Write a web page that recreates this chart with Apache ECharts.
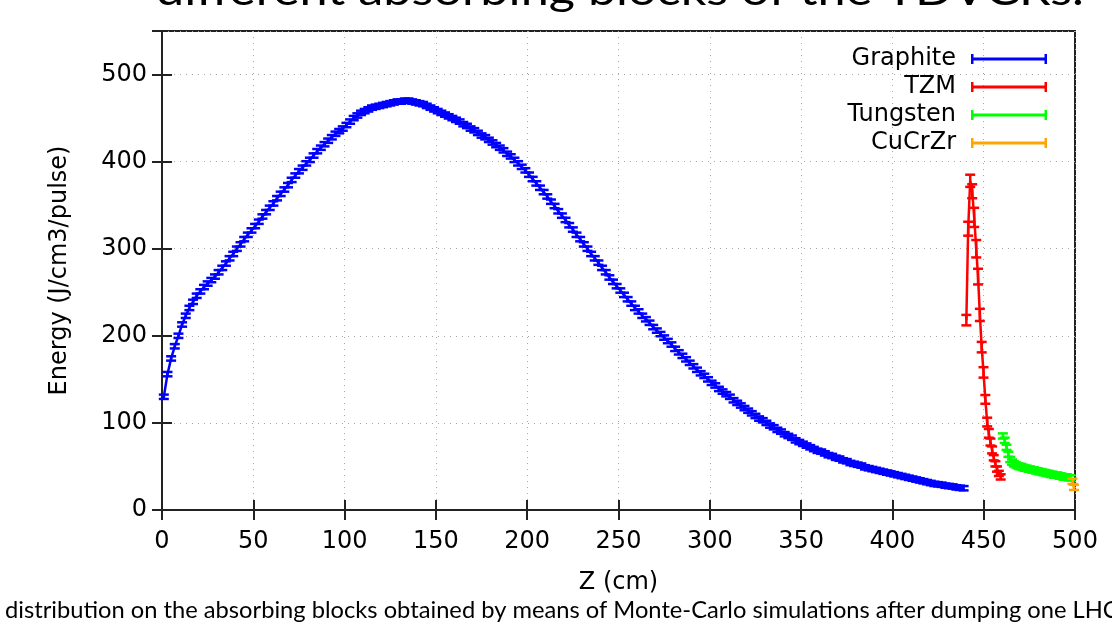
<!DOCTYPE html>
<html>
<head>
<meta charset="utf-8">
<title>Energy distribution</title>
<script src="https://cdn.jsdelivr.net/npm/echarts@6/dist/echarts.min.js"></script>
<style>
html, body { margin: 0; padding: 0; background: #fff; }
#chart { width: 1112px; height: 628px; }
</style>
</head>
<body>
<div id="chart"></div>
<script>
// Graphite: bins of 2 cm, first centre at z = 1
var graphiteStart = 1;
var graphiteStep = 2;
var graphiteE = [
  130, 156, 174, 188, 200, 213, 223, 232, 239, 246,
  251, 256, 260, 264, 268, 273, 278, 283, 289, 294,
  300, 305, 311, 316, 321, 326, 331, 337, 342, 347,
  352, 358, 363, 368, 373, 379, 384, 389, 393, 398,
  402, 407, 412, 416, 420, 424, 428, 432, 435, 438,
  442, 446, 450, 453, 456, 458, 460, 462, 463, 464,
  465, 466, 467, 468, 469, 469, 470, 470, 469, 468,
  467, 466, 464, 462, 460, 458, 456, 454, 452, 450,
  448, 446, 443, 441, 438, 436, 433, 430, 428, 425,
  422, 419, 416, 413, 409, 406, 402, 398, 394, 390,
  385, 380, 375, 370, 365, 360, 354, 349, 343, 338,
  333, 327, 322, 316, 311, 305, 300, 294, 289, 284,
  278, 273, 267, 262, 257, 252, 247, 242, 237, 232,
  228, 223, 219, 215, 210, 206, 202, 198, 194, 190,
  185, 181, 177, 173, 169, 165, 161, 157, 154, 150,
  146, 143, 139, 136, 133, 130, 126, 123, 120, 117,
  114, 111, 108, 105, 103, 100, 97, 95, 92, 90,
  87, 85, 83, 80, 78, 76, 74, 72, 70, 68,
  67, 65, 63, 62, 60, 59, 57, 56, 54, 53,
  52, 51, 49, 48, 47, 46, 45, 44, 43, 42,
  41, 40, 39, 38, 37, 36, 35, 34, 33, 32,
  31, 30, 29.5, 29, 28, 27.5, 27, 26, 25.5, 25
];
var graphiteErr = 2.5;

var tzmZ = [440.5, 441.5, 442.6, 443.7, 444.8, 445.9, 446.9, 447.9, 448.9, 449.9,
            450.9, 451.9, 452.8, 453.7, 454.6, 455.5, 456.4, 457.3, 458.3, 459.3];
var tzmE = [218, 323, 378, 366, 336, 300, 268, 224, 187, 158,
            127, 101, 88, 78, 69, 60, 53, 47, 42, 38];
var tzmErr = [6, 8, 7, 8, 11, 10, 9, 7, 6, 6, 5, 5, 5, 4, 4, 3, 3, 3, 3, 3];

var tungstenZ = [460.5, 461.5, 462.5, 463.5, 464.5, 465.5, 466.5, 467.5, 468.5, 469.5,
                 470.5, 471.5, 472.5, 473.5, 474.5, 475.5, 476.5, 477.5, 478.5, 479.5,
                 480.5, 481.5, 482.5, 483.5, 484.5, 485.5, 486.5, 487.5, 488.5, 489.5,
                 490.5, 491.5, 492.5, 493.5, 494.5, 495.5, 496.5, 497.5];
var tungstenE = [85, 80, 72, 64, 58, 55, 53, 52, 51, 50,
                 50, 49, 48, 48, 47, 47, 46, 46, 45, 45,
                 44, 44, 43, 43, 42, 42, 41, 41, 40, 40,
                 40, 39, 39, 38, 38, 38, 37, 37];
var tungstenErr = 3;

var cucrzrZ = [498.6, 499.4];
var cucrzrE = [33, 26];
var cucrzrErr = 3;

var xTicks = { min: 0, max: 500, step: 50 };
var yTicks = { min: 0, max: 550, step: 100 };

var gnuFont = 'DejaVu Sans';
var capFont = 'Lato';

function rows(zs, es, err) {
  var out = [];
  for (var i = 0; i < es.length; i++) {
    var e = (typeof err === 'number') ? err : err[i];
    out.push([zs[i], es[i], e]);
  }
  return out;
}

var graphiteZ = [];
for (var i = 0; i < graphiteE.length; i++) graphiteZ.push(graphiteStart + i * graphiteStep);

var sets = [
  { name: 'Graphite', color: '#0000ff', data: rows(graphiteZ, graphiteE, graphiteErr) },
  { name: 'TZM', color: '#ff0000', data: rows(tzmZ, tzmE, tzmErr) },
  { name: 'Tungsten', color: '#00ff00', data: rows(tungstenZ, tungstenE, tungstenErr) },
  { name: 'CuCrZr', color: '#ffa500', data: rows(cucrzrZ, cucrzrE, cucrzrErr) }
];

// vertical bar with caps, gnuplot "errorbars" look
function errorBar(color) {
  return function (params, api) {
    var x = api.value(0), y = api.value(1), e = api.value(2);
    var lo = api.coord([x, y - e]);
    var hi = api.coord([x, y + e]);
    var hw = 5;
    var st = { stroke: color, lineWidth: 2.5 };
    return {
      type: 'group',
      children: [
        { type: 'line', shape: { x1: lo[0], y1: lo[1], x2: hi[0], y2: hi[1] }, style: st },
        { type: 'line', shape: { x1: lo[0] - hw, y1: lo[1], x2: lo[0] + hw, y2: lo[1] }, style: st },
        { type: 'line', shape: { x1: hi[0] - hw, y1: hi[1], x2: hi[0] + hw, y2: hi[1] }, style: st }
      ]
    };
  };
}

var series = [];
var legendData = [];
var barIcon = 'path://M0,3.5H76V6.5H0Z M0,0H2.5V10H0Z M73.5,0H76V10H73.5Z';
sets.forEach(function (s) {
  series.push({
    name: s.name,
    type: 'line',
    data: s.data.map(function (d) { return [d[0], d[1]]; }),
    showSymbol: false,
    symbol: 'none',
    color: s.color,
    lineStyle: { color: s.color, width: 2.5 },
    itemStyle: { color: s.color },
    animation: false,
    z: 2
  });
  series.push({
    name: s.name,
    type: 'custom',
    data: s.data,
    renderItem: errorBar(s.color),
    encode: { x: 0, y: 1 },
    color: s.color,
    animation: false,
    z: 3
  });
  legendData.push({ name: s.name, icon: barIcon, itemStyle: { color: s.color, borderWidth: 0 } });
});

var axisCol = '#222';
var gridLine = { show: true, lineStyle: { color: '#a8a8a8', width: 1, type: [1, 5] } };

var chart = echarts.init(document.getElementById('chart'), null, { renderer: 'canvas' });
chart.setOption({
  backgroundColor: '#fff',
  animation: false,
  grid: { left: 162, right: 37, top: 31, bottom: 118, show: true, borderColor: axisCol, borderWidth: 2 },
  legend: {
    data: legendData,
    orient: 'vertical',
    right: 60,
    top: 42,
    align: 'right',
    itemWidth: 76,
    itemHeight: 10,
    itemGap: 4,
    selectedMode: false,
    textStyle: { fontFamily: gnuFont, fontSize: 24, color: '#000', padding: [0, 10, 0, 0] }
  },
  xAxis: [{
    type: 'value', min: xTicks.min, max: xTicks.max, interval: xTicks.step,
    name: 'Z (cm)', nameLocation: 'middle', nameGap: 61,
    nameTextStyle: { fontFamily: gnuFont, fontSize: 24, color: '#000' },
    axisLine: { show: true, lineStyle: { color: axisCol, width: 2 } },
    axisTick: { show: true, inside: true, length: 10, lineStyle: { color: axisCol, width: 2 } },
    axisLabel: { fontFamily: gnuFont, fontSize: 24, color: '#000', margin: 20 },
    splitLine: gridLine
  }, {
    type: 'value', position: 'top', min: xTicks.min, max: xTicks.max, interval: xTicks.step,
    axisLine: { show: true, lineStyle: { color: axisCol, width: 2 } },
    axisTick: { show: true, inside: true, length: 10, lineStyle: { color: axisCol, width: 2 } },
    axisLabel: { show: false },
    splitLine: { show: false }
  }],
  yAxis: [{
    type: 'value', min: yTicks.min, max: yTicks.max, interval: yTicks.step,
    name: 'Energy (J/cm3/pulse)', nameLocation: 'middle', nameGap: 90,
    nameTextStyle: { fontFamily: gnuFont, fontSize: 24, color: '#000' },
    axisLine: { show: true, lineStyle: { color: axisCol, width: 2 } },
    axisTick: { show: true, inside: true, length: 10, lineStyle: { color: axisCol, width: 2 } },
    axisLabel: { fontFamily: gnuFont, fontSize: 24, color: '#000', margin: 15, showMaxLabel: false },
    splitLine: gridLine
  }, {
    type: 'value', position: 'right', min: yTicks.min, max: yTicks.max, interval: yTicks.step,
    axisLine: { show: true, lineStyle: { color: axisCol, width: 2 } },
    axisTick: { show: true, inside: true, length: 10, lineStyle: { color: axisCol, width: 2 } },
    axisLabel: { show: false },
    splitLine: { show: false }
  }],
  graphic: [
    {
      type: 'text', x: 156, y: -30, scaleX: 1.2,
      style: { text: 'different absorbing blocks of the TDVCRs.', font: '42px ' + capFont, fill: '#000' }
    },
    {
      type: 'text', x: 5, y: 599, scaleX: 1.03,
      style: { text: 'distribution on the absorbing blocks obtained by means of Monte-Carlo simulations after dumping one LHC beam', font: '23px ' + capFont, fill: '#000' }
    }
  ],
  series: series
});
</script>
</body>
</html>
